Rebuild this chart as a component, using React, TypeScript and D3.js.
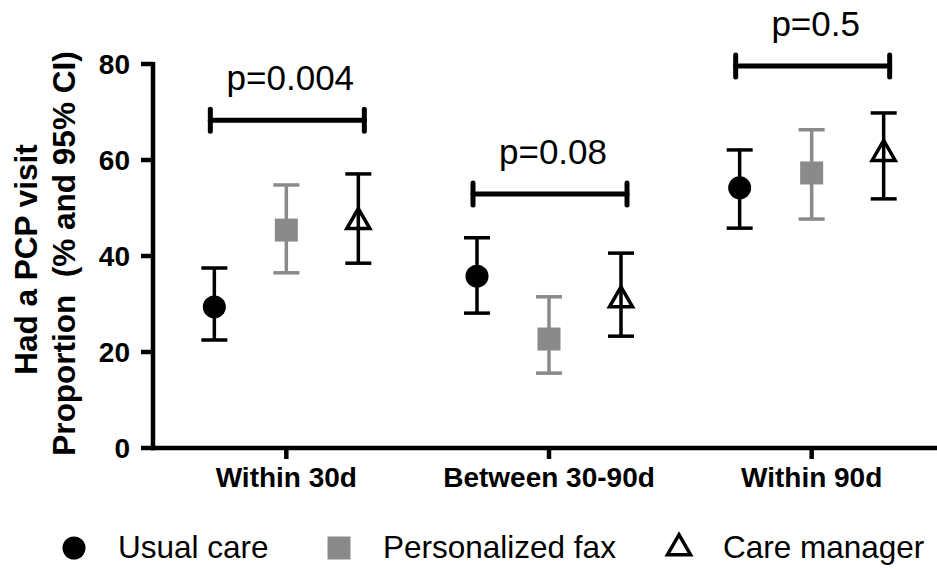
import React from 'react'
import * as d3 from 'd3'

// data
const groups = ['Within 30d', 'Between 30-90d', 'Within 90d']
const series = ['Usual care', 'Personalized fax', 'Care manager']
const usualMean = [29.4, 35.8, 54.2]
const usualLow = [22.5, 28.1, 45.8]
const usualHigh = [37.5, 43.8, 62.1]
const faxMean = [45.4, 22.7, 57.3]
const faxLow = [36.5, 15.6, 47.7]
const faxHigh = [54.8, 31.5, 66.3]
const cmMean = [47.1, 30.8, 61.3]
const cmLow = [38.5, 23.3, 51.9]
const cmHigh = [57.1, 40.6, 69.8]
const pLabels = ['p=0.004', 'p=0.08', 'p=0.5']
const bracketY = [68.3, 52.9, 79.6]
const yTicks = [0, 20, 40, 60, 80]

const W = 937
const H = 569
const font = '"Liberation Sans", Arial, Helvetica, sans-serif'
const grey = '#8a8a8a'

const App = () => {
  const y = d3.scaleLinear().domain([0, 80]).range([448, 64])
  const x = d3.scaleBand().domain(groups).range([155, 943])
  const inner = d3.scaleBand().domain(series).range([-108, 108])
  const cx = (g: string) => (x(g) as number) + x.bandwidth() / 2

  const seriesData = [
    { name: series[0], mean: usualMean, low: usualLow, high: usualHigh, color: '#000', shape: 'circle' },
    { name: series[1], mean: faxMean, low: faxLow, high: faxHigh, color: grey, shape: 'square' },
    { name: series[2], mean: cmMean, low: cmLow, high: cmHigh, color: '#000', shape: 'triangle' },
  ]

  const sym = (shape: string) => {
    if (shape === 'circle') return d3.symbol(d3.symbolCircle, Math.PI * 11.5 * 11.5)()
    if (shape === 'square') return d3.symbol(d3.symbolSquare, 23 * 23)()
    return d3.symbol(d3.symbolTriangle, 230)()
  }
  const marker = (shape: string, color: string, px: number, py: number, key?: string) => (
    <path
      key={key}
      d={sym(shape) as string}
      transform={`translate(${px},${py})`}
      fill={shape === 'triangle' ? 'none' : color}
      stroke={shape === 'triangle' ? color : 'none'}
      strokeWidth={3.5}
      strokeLinejoin='miter'
    />
  )

  const legend = [
    { s: seriesData[0], mx: 74 },
    { s: seriesData[1], mx: 339 },
    { s: seriesData[2], mx: 679 },
  ]

  return (
    <svg width={W} height={H} style={{ position: 'absolute', left: 0, top: 0, background: '#fff' }} fontFamily={font}>
      {/* y axis title */}
      <g fontWeight='bold' fontSize={31.5} textAnchor='middle'>
        <text transform={`translate(37,${(142 + 377) / 2}) rotate(-90)`}>Had a PCP visit</text>
        <text transform={`translate(75,${(57 + 450) / 2}) rotate(-90)`} style={{ whiteSpace: 'pre' }}>
          {'Proportion  (% and 95% CI)'}
        </text>
      </g>

      {/* axes */}
      <g stroke='#000' strokeWidth={4.5}>
        <line x1={153} x2={153} y1={y(80) - 2} y2={y(0) + 2.2} />
        <line x1={151} x2={W} y1={y(0)} y2={y(0)} />
        {yTicks.map((t) => (
          <line key={t} x1={141} x2={153} y1={y(t)} y2={y(t)} />
        ))}
        {groups.map((g) => (
          <line key={g} x1={cx(g)} x2={cx(g)} y1={y(0)} y2={y(0) + 11} />
        ))}
      </g>
      <g fontWeight='bold' fontSize={28} textAnchor='end'>
        {yTicks.map((t) => (
          <text key={t} x={130} y={y(t)} dy='0.36em'>
            {t}
          </text>
        ))}
      </g>
      <g fontWeight='bold' fontSize={28} textAnchor='middle'>
        {groups.map((g) => (
          <text key={g} x={cx(g)} y={487}>
            {g}
          </text>
        ))}
      </g>

      {/* error bars and points */}
      {seriesData.map((s) =>
        groups.map((g, i) => {
          const px = cx(g) + (inner(s.name) as number) + inner.bandwidth() / 2
          return (
            <g key={s.name + g}>
              <g stroke={s.color} strokeWidth={3.5}>
                <line x1={px} x2={px} y1={y(s.low[i])} y2={y(s.high[i])} />
                <line x1={px - 13} x2={px + 13} y1={y(s.low[i])} y2={y(s.low[i])} />
                <line x1={px - 13} x2={px + 13} y1={y(s.high[i])} y2={y(s.high[i])} />
              </g>
              {marker(s.shape, s.color, px, y(s.mean[i]))}
            </g>
          )
        })
      )}

      {/* significance brackets */}
      {groups.map((g, i) => {
        const by = y(bracketY[i])
        const x0 = cx(g) - 76
        const x1 = cx(g) + 78
        return (
          <g key={g}>
            <g stroke='#000' strokeWidth={5} strokeLinecap='round'>
              <line x1={x0} x2={x1} y1={by} y2={by} />
              <line x1={x0} x2={x0} y1={by - 11} y2={by + 11} />
              <line x1={x1} x2={x1} y1={by - 11} y2={by + 11} />
            </g>
            <text x={cx(g) + 4} y={by - 30} fontSize={35} textAnchor='middle'>
              {pLabels[i]}
            </text>
          </g>
        )
      })}

      {/* legend */}
      {legend.map((l) => (
        <g key={l.s.name}>
          {marker(l.s.shape, l.s.color, l.mx, 548)}
          <text x={l.mx + 44} y={558} fontSize={31.5}>
            {l.s.name}
          </text>
        </g>
      ))}
    </svg>
  )
}

export default App
